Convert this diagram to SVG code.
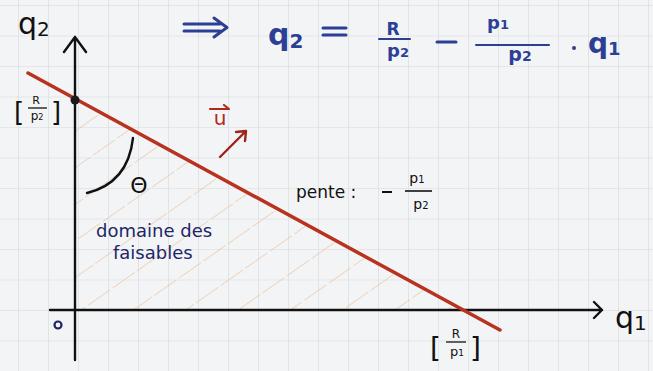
<svg xmlns="http://www.w3.org/2000/svg" width="653" height="371" viewBox="0 0 653 371">
<defs>
<style>
.ax{stroke:#111;stroke-width:2.4;fill:none;stroke-linecap:round;stroke-linejoin:round}
.blk{font-family:"DejaVu Sans","Liberation Sans",sans-serif;fill:#111}
.blu{font-family:"DejaVu Sans","Liberation Sans",sans-serif;fill:#2c3f95;font-weight:bold}
.nav{font-family:"DejaVu Sans","Liberation Sans",sans-serif;fill:#1e2668}
.bar{stroke-width:2;stroke-linecap:round}
</style>
<pattern id="grid" patternUnits="userSpaceOnUse" x="18" y="5" width="30" height="30.5">
<path d="M0,0V30.5M0,0H30" stroke="#d5d8de" stroke-width="1.2" fill="none"/>
</pattern>
<pattern id="hatch" patternUnits="userSpaceOnUse" width="30" height="30" patternTransform="rotate(-35)">
<line x1="0" y1="0" x2="30" y2="0" stroke="#e8b98f" stroke-width="1.3" stroke-dasharray="14 3"/>
</pattern>
<clipPath id="tri"><polygon points="75,100 463,310 75,310"/></clipPath>
</defs>
<rect width="653" height="371" fill="#f3f4f6"/>
<rect width="653" height="371" fill="url(#grid)"/>
<g id="feasible">
<rect x="75" y="100" width="390" height="210" fill="url(#hatch)" clip-path="url(#tri)" opacity="0.7"/>
</g>
<g id="axes">
<path class="ax" d="M75,360V37M64,52L75,37L86,52"/>
<path class="ax" d="M50,310H602M594,302L602,310L594,318"/>
</g>
<g id="budget-line">
<line x1="28" y1="73" x2="500" y2="330" stroke="#b8321f" stroke-width="3.5" stroke-linecap="round"/>
<circle cx="75" cy="100" r="4.5" fill="#1a1a1a"/>
</g>
<g id="angle">
<path class="ax" d="M133,138Q128,183 87,193" stroke-width="2.2"/>
<text class="blk" x="139" y="193" font-size="22" text-anchor="middle">Θ</text>
</g>
<g id="utility-vector">
<text x="220" y="125" font-family="DejaVu Sans,sans-serif" font-size="20" fill="#b02a1c" text-anchor="middle">u</text>
<path d="M210,109H228M224,105L229,109" stroke="#b02a1c" stroke-width="2.2" fill="none" stroke-linecap="round"/>
<path d="M220,157L246,131M236,132L246,131L245,141" stroke="#a02418" stroke-width="2.4" fill="none" stroke-linecap="round" stroke-linejoin="round"/>
</g>
<g id="labels">
<text class="blk" x="18" y="34" font-size="30">q<tspan font-size="20" dy="2">2</tspan></text>
<text class="blk" x="14" y="121" font-size="26">[</text>
<text class="blk" x="36" y="104" font-size="11" text-anchor="middle">R</text>
<line x1="28" y1="108" x2="47" y2="108" stroke="#111" stroke-width="1.3"/>
<text class="blk" x="37" y="120" font-size="12" text-anchor="middle">p<tspan font-size="8">2</tspan></text>
<text class="blk" x="51" y="121" font-size="26">]</text>
<text class="blk" x="615" y="328" font-size="30">q<tspan font-size="20" dy="2">1</tspan></text>
<text class="blk" x="430" y="358" font-size="28">[</text>
<text class="blk" x="470" y="358" font-size="28">]</text>
<text class="blk" x="456" y="338" font-size="12" text-anchor="middle">R</text>
<line x1="446" y1="342" x2="466" y2="342" stroke="#111" stroke-width="1.3"/>
<text class="blk" x="457" y="356" font-size="13" text-anchor="middle">p<tspan font-size="9">1</tspan></text>
<text class="blk" x="296" y="198" font-size="17">pente :</text>
<line x1="382" y1="192" x2="392" y2="192" stroke="#111" stroke-width="2"/>
<text class="blk" x="417" y="183" font-size="14" text-anchor="middle">p<tspan font-size="10">1</tspan></text>
<line x1="405" y1="191" x2="432" y2="191" stroke="#111" stroke-width="1.6"/>
<text class="blk" x="421" y="209" font-size="14" text-anchor="middle">p<tspan font-size="10">2</tspan></text>
<circle cx="58" cy="325" r="3.5" fill="none" stroke="#1e2668" stroke-width="2.2"/>
<text class="nav" x="96" y="237" font-size="18">domaine des</text>
<text class="nav" x="113" y="259" font-size="18">faisables</text>
</g>
<g id="equation">
<path d="M184,24H220M184,31H220M214,18L227,27.5L214,37" stroke="#2c3f95" stroke-width="3" fill="none" stroke-linecap="round" stroke-linejoin="round"/>
<text class="blu" x="268" y="45" font-size="30" font-weight="normal">q<tspan font-size="20" dy="3">2</tspan></text>
<path d="M323,28H346M323,35H346" stroke="#2c3f95" stroke-width="3" stroke-linecap="round"/>
<text class="blu" x="393" y="35" font-size="17" text-anchor="middle">R</text>
<line class="bar" x1="379" y1="39" x2="410" y2="39" stroke="#2c3f95" stroke-width="2.4"/>
<text class="blu" x="398" y="57" font-size="18" text-anchor="middle">p<tspan font-size="13">2</tspan></text>
<line x1="437" y1="42" x2="456" y2="42" stroke="#2c3f95" stroke-width="3" stroke-linecap="round"/>
<text class="blu" x="498" y="29" font-size="18" text-anchor="middle">p<tspan font-size="13">1</tspan></text>
<line class="bar" x1="476" y1="45" x2="549" y2="45" stroke="#2c3f95" stroke-width="2.4"/>
<text class="blu" x="520" y="61" font-size="19" text-anchor="middle">p<tspan font-size="14">2</tspan></text>
<circle cx="574" cy="48" r="2" fill="#2c3f95"/>
<text class="blu" x="588" y="53" font-size="28" font-weight="normal">q<tspan font-size="18" dy="2">1</tspan></text>
</g>
</svg>
